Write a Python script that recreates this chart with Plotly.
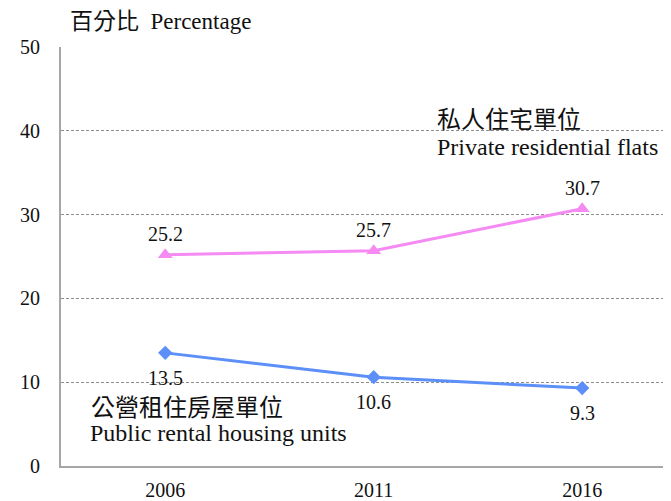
import plotly.graph_objects as go

years = ["2006", "2011", "2016"]
private_flats = [25.2, 25.7, 30.7]
public_rental = [13.5, 10.6, 9.3]
y_ticks = [0, 10, 20, 30, 40, 50]

SERIF = "Liberation Serif, Times New Roman, Noto Sans CJK TC, serif"
PINK = "#F48AF2"
BLUE = "#5C8FF7"
GRID = "#8C8C8C"
AXIS = "#A6A6A6"
INK = "#111111"

fig = go.Figure()

fig.add_trace(go.Scatter(
    x=years, y=private_flats,
    mode="lines+markers",
    line=dict(color=PINK, width=3),
    marker=dict(symbol="triangle-up", size=13, color=PINK),
    hoverinfo="skip",
))

fig.add_trace(go.Scatter(
    x=years, y=public_rental,
    mode="lines+markers",
    line=dict(color=BLUE, width=3),
    marker=dict(symbol="diamond", size=11, color=BLUE),
    hoverinfo="skip",
))

# value labels: pink above the points, blue below
# (category axis: annotation x is the category's index)
for series, shift in ((private_flats, 21), (public_rental, -25)):
    for i, v in enumerate(series):
        fig.add_annotation(
            x=i, y=v, text=f"{v:.1f}", yshift=shift,
            showarrow=False, xanchor="center", yanchor="middle",
            font=dict(family=SERIF, size=20, color=INK),
        )

# page body has an 8px margin, so the figure starts at (8, 8)
OFF = 8
W, H = 671 - OFF, 501 - OFF
L, R, T, B = 61 - OFF, 0, 47 - OFF, 32

labels = [
    dict(text="百分比  Percentage", x=68, y=22, size=23),
    dict(text="私人住宅單位", x=435, y=120, size=24),
    dict(text="Private residential flats", x=435, y=147, size=24),
    dict(text="公營租住房屋單位", x=89, y=408, size=24),
    dict(text="Public rental housing units", x=88, y=433, size=24),
]

plot_bottom = 466
for a in labels:
    fig.add_annotation(
        text=a["text"],
        x=(a["x"] - OFF - L) / (W - L - R),
        y=(plot_bottom - a["y"]) / (plot_bottom - 47),
        xref="paper", yref="paper",
        xanchor="left", yanchor="middle",
        showarrow=False,
        font=dict(family=SERIF, size=a["size"], color=INK),
    )

fig.update_layout(
    width=W, height=H,
    margin=dict(l=L, r=R, t=T, b=B),
    paper_bgcolor="white",
    plot_bgcolor="white",
    showlegend=False,
    font=dict(family=SERIF, size=20, color=INK),
    xaxis=dict(
        type="category",
        range=[-0.5, 2.426],
        showgrid=False,
        showline=True,
        linecolor=AXIS,
        linewidth=2,
        ticks="",
        tickfont=dict(family=SERIF, size=20),
        ticklabelstandoff=5,
    ),
    yaxis=dict(
        range=[0, 50],
        tickvals=y_ticks,
        showgrid=True,
        gridcolor=GRID,
        griddash="3px,2px",
        gridwidth=1,
        showline=True,
        linecolor=AXIS,
        linewidth=2,
        zeroline=False,
        ticks="",
        tickfont=dict(family=SERIF, size=20),
        ticklabelstandoff=15,
    ),
)

fig.write_html("out.html")
